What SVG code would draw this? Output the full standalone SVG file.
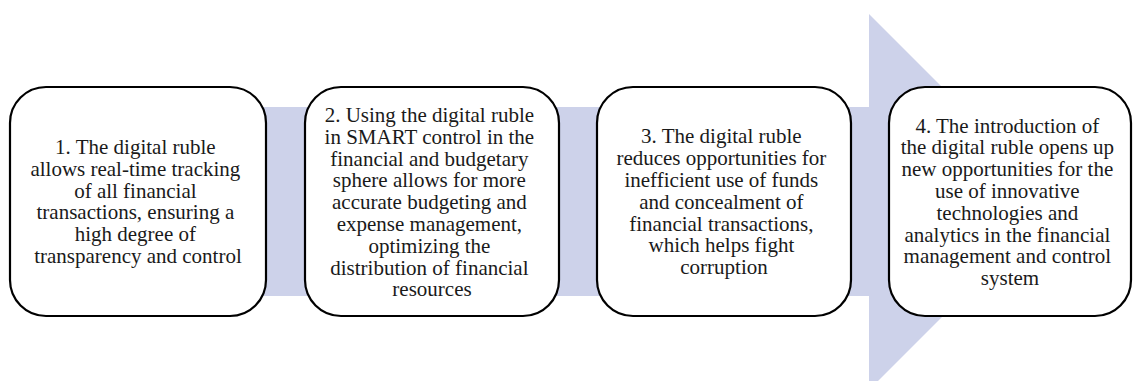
<svg xmlns="http://www.w3.org/2000/svg" width="1133" height="381" viewBox="0 0 1133 381">
  <style>
    .box { fill: #ffffff; stroke: #000000; stroke-width: 2.2; }
    .label { font-family: "Liberation Serif", "Times New Roman", serif; font-size: 21px; fill: #1a1a1a; text-anchor: middle; }
    .flow { fill: #cdd2ea; stroke: none; }
  </style>

  <!-- background process arrow -->
  <g id="connectors">
    <polygon class="flow" points="20,107 869,107 869,14 1057,202 869,390 869,296 20,296"/>
  </g>

  <g id="step1">
    <rect class="box" x="10" y="87" width="256" height="229" rx="36" ry="36"/>
    <text class="label">
      <tspan x="138" y="154">1. The digital ruble</tspan>
      <tspan x="138" y="175.8">allows real-time tracking</tspan>
      <tspan x="138" y="197.6">of all financial</tspan>
      <tspan x="138" y="219.4">transactions, ensuring a</tspan>
      <tspan x="138" y="241.2">high degree of</tspan>
      <tspan x="138" y="263">transparency and control</tspan>
    </text>
  </g>

  <g id="step2">
    <rect class="box" x="305" y="87" width="254" height="229" rx="36" ry="36"/>
    <text class="label">
      <tspan x="432" y="122">2. Using the digital ruble</tspan>
      <tspan x="432" y="143.8">in SMART control in the</tspan>
      <tspan x="432" y="165.6">financial and budgetary</tspan>
      <tspan x="432" y="187.4">sphere allows for more</tspan>
      <tspan x="432" y="209.2">accurate budgeting and</tspan>
      <tspan x="432" y="231">expense management,</tspan>
      <tspan x="432" y="252.8">optimizing the</tspan>
      <tspan x="432" y="274.6">distribution of financial</tspan>
      <tspan x="432" y="296.4">resources</tspan>
    </text>
  </g>

  <g id="step3">
    <rect class="box" x="597" y="87" width="254" height="229" rx="36" ry="36"/>
    <text class="label">
      <tspan x="724" y="143.4">3. The digital ruble</tspan>
      <tspan x="724" y="165.2">reduces opportunities for</tspan>
      <tspan x="724" y="187">inefficient use of funds</tspan>
      <tspan x="724" y="208.8">and concealment of</tspan>
      <tspan x="724" y="230.6">financial transactions,</tspan>
      <tspan x="724" y="252.4">which helps fight</tspan>
      <tspan x="724" y="274.2">corruption</tspan>
    </text>
  </g>

  <g id="step4">
    <rect class="box" x="889" y="87" width="242" height="229" rx="36" ry="36"/>
    <text class="label">
      <tspan x="1010" y="132.5">4. The introduction of</tspan>
      <tspan x="1010" y="154.3">the digital ruble opens up</tspan>
      <tspan x="1010" y="176.1">new opportunities for the</tspan>
      <tspan x="1010" y="197.9">use of innovative</tspan>
      <tspan x="1010" y="219.7">technologies and</tspan>
      <tspan x="1010" y="241.5">analytics in the financial</tspan>
      <tspan x="1010" y="263.3">management and control</tspan>
      <tspan x="1010" y="285.1">system</tspan>
    </text>
  </g>
</svg>
